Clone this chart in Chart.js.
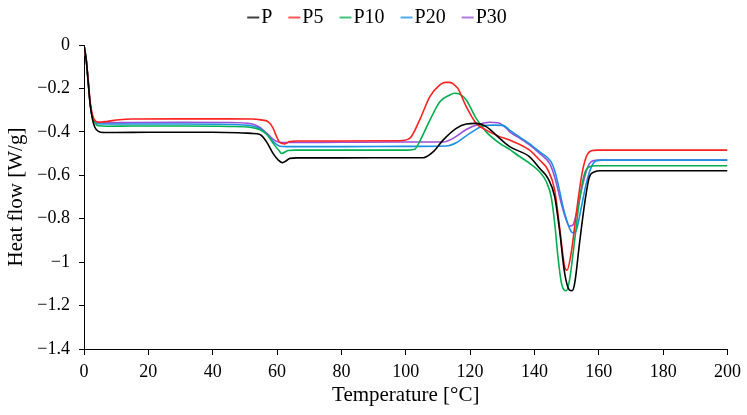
<!DOCTYPE html>
<html>
<head>
<meta charset="utf-8">
<script src="https://cdn.jsdelivr.net/npm/chart.js@4.4.1/dist/chart.umd.min.js"></script>
<style>
  html, body { margin: 0; padding: 0; background: #fff; }
  #c { display: block; }
</style>
</head>
<body>
<canvas id="c" width="747" height="415"></canvas>
<script>
// ---------- data ----------
const seriesNames = ['P', 'P5', 'P10', 'P20', 'P30'];

const xTicks = [0, 20, 40, 60, 80, 100, 120, 140, 160, 180, 200];
const yTicks = [0, -0.2, -0.4, -0.6, -0.8, -1, -1.2, -1.4];

const tempP = [0, 0.7, 1.3, 1.9, 2.6, 3.4, 4.5, 6, 10, 20, 30, 40, 48, 52, 54.7, 56.7, 58.8, 60.4, 61.7, 62.9, 64, 66, 80, 100, 105.4, 108.5, 111.6, 115.7, 118.8, 121.9, 125, 129.2, 132.3, 138.5, 141.6, 144.2, 146.3, 147.8, 149.4, 150.9, 151.7, 152.5, 154, 155.6, 157.1, 158.7, 160.5, 170, 185, 200];
const flowP = [0, -0.07, -0.17, -0.27, -0.34, -0.38, -0.398, -0.403, -0.403, -0.402, -0.402, -0.402, -0.404, -0.407, -0.412, -0.445, -0.5, -0.53, -0.542, -0.533, -0.522, -0.52, -0.52, -0.519, -0.519, -0.492, -0.438, -0.384, -0.364, -0.361, -0.376, -0.43, -0.468, -0.515, -0.568, -0.614, -0.699, -0.853, -1.052, -1.129, -1.132, -1.098, -0.914, -0.73, -0.607, -0.584, -0.579, -0.579, -0.579, -0.579];

const tempP5 = [0, 0.7, 1.3, 1.9, 2.6, 3.4, 4.5, 7, 11, 15, 30, 45, 52, 55, 57.2, 58.8, 59.8, 60.9, 62.4, 63.9, 66, 80, 98, 101.2, 104.3, 107.5, 110.6, 112.3, 113.7, 115, 116.2, 118.8, 121.9, 125, 129.2, 132.3, 138.5, 141.6, 144.2, 146.3, 147.8, 149.4, 150.1, 151.4, 153, 154.6, 156.1, 157.7, 159.5, 170, 185, 200];
const flowP5 = [-0.01, -0.07, -0.16, -0.26, -0.32, -0.348, -0.355, -0.352, -0.344, -0.341, -0.34, -0.34, -0.341, -0.345, -0.353, -0.384, -0.42, -0.45, -0.456, -0.444, -0.442, -0.442, -0.441, -0.43, -0.346, -0.238, -0.184, -0.172, -0.172, -0.182, -0.2, -0.284, -0.361, -0.392, -0.422, -0.438, -0.484, -0.53, -0.576, -0.668, -0.837, -1.022, -1.037, -0.96, -0.776, -0.607, -0.515, -0.487, -0.484, -0.484, -0.484, -0.484];

const tempP10 = [0, 0.7, 1.3, 1.9, 2.6, 3.4, 4.5, 7, 15, 30, 45, 52, 54.7, 56.7, 58.8, 60.9, 61.4, 63.4, 66, 80, 100, 102.8, 104.3, 107.5, 110.6, 113.7, 115.2, 116.2, 118.8, 121.9, 125, 129.2, 132.3, 135, 138.5, 141.6, 143.7, 145.2, 146.3, 147.3, 148.4, 149.9, 150.9, 152.5, 154, 155.6, 157.1, 159.2, 170, 185, 200];
const flowP10 = [0, -0.07, -0.17, -0.27, -0.33, -0.36, -0.372, -0.374, -0.373, -0.373, -0.375, -0.38, -0.39, -0.41, -0.453, -0.492, -0.5, -0.486, -0.484, -0.484, -0.484, -0.48, -0.445, -0.346, -0.261, -0.23, -0.222, -0.223, -0.253, -0.338, -0.4, -0.453, -0.481, -0.51, -0.545, -0.584, -0.63, -0.699, -0.822, -0.975, -1.098, -1.132, -1.083, -0.899, -0.714, -0.591, -0.561, -0.556, -0.556, -0.556, -0.556];

const tempP20 = [0, 0.7, 1.3, 1.9, 2.6, 3.4, 4.5, 7, 15, 30, 45, 52, 54.7, 56.7, 58.8, 60.9, 63, 80, 100, 112.6, 115.7, 119.9, 124, 127.1, 130.2, 132.3, 135, 138.5, 141.6, 145.2, 146.3, 147.3, 149.4, 152, 153, 154.6, 156.1, 157.7, 159.2, 161, 170, 185, 200];
const flowP20 = [0, -0.07, -0.17, -0.27, -0.33, -0.355, -0.363, -0.364, -0.364, -0.364, -0.366, -0.372, -0.385, -0.41, -0.445, -0.466, -0.468, -0.468, -0.467, -0.465, -0.45, -0.407, -0.373, -0.369, -0.37, -0.392, -0.42, -0.455, -0.492, -0.538, -0.579, -0.637, -0.776, -0.865, -0.853, -0.745, -0.637, -0.561, -0.533, -0.53, -0.53, -0.53, -0.53];

const tempP30 = [0, 0.7, 1.3, 1.9, 2.6, 3.4, 4.5, 7, 15, 30, 45, 52, 54.7, 56.7, 58.8, 60.4, 62, 80, 100, 111.6, 114.7, 118.8, 123, 126.1, 128.7, 131.3, 132.3, 135, 138.5, 141.6, 144.7, 145.8, 146.8, 148.9, 150.9, 151.9, 153.5, 155.1, 156.6, 158.2, 160, 170, 185, 200];
const flowP30 = [0, -0.07, -0.17, -0.27, -0.33, -0.352, -0.358, -0.358, -0.357, -0.356, -0.357, -0.363, -0.38, -0.405, -0.435, -0.447, -0.449, -0.448, -0.447, -0.447, -0.43, -0.389, -0.364, -0.356, -0.358, -0.384, -0.4, -0.425, -0.46, -0.499, -0.545, -0.585, -0.637, -0.76, -0.834, -0.83, -0.745, -0.637, -0.561, -0.533, -0.53, -0.53, -0.53, -0.53];

// ---------- styling ----------
const colors = ['#000000', '#FF2020', '#00B050', '#1A8FE3', '#9A4FD6'];
const serif = '"Liberation Serif", "Times New Roman", Times, serif';

function toPoints(xs, ys) { return xs.map((x, i) => ({ x: x, y: ys[i] })); }

function legendLine(color) {
  const cv = document.createElement('canvas');
  cv.width = 26; cv.height = 4;
  const g = cv.getContext('2d');
  g.strokeStyle = color; g.lineWidth = 1.5;
  g.beginPath(); g.moveTo(11, 2); g.lineTo(23, 2); g.stroke();
  return cv;
}

const temps = [tempP, tempP5, tempP10, tempP20, tempP30];
const flows = [flowP, flowP5, flowP10, flowP20, flowP30];

const datasets = seriesNames.map((name, i) => ({
  label: name,
  data: toPoints(temps[i], flows[i]),
  borderColor: colors[i],
  backgroundColor: colors[i],
  borderWidth: 1.6,
  pointRadius: 0,
  pointHoverRadius: 0,
  pointStyle: legendLine(colors[i]),
  cubicInterpolationMode: 'monotone',
  fill: false
}));

const legendTweak = {
  id: 'legendTweak',
  beforeInit(chart) {
    const lg = chart.legend;
    if (lg) {
      const orig = lg.fit;
      lg.fit = function () { orig.call(this); if (this.options.display) this.height = 45; };
    }
  },
  afterLayout(chart) {
    const lg = chart.legend;
    if (lg) { lg.top -= 8.5; lg.bottom -= 8.5; lg.left += 13; lg.right += 13; }
  }
};

new Chart(document.getElementById('c'), {
  type: 'line',
  data: { datasets: datasets },
  plugins: [legendTweak],
  options: {
    responsive: false,
    animation: false,
    devicePixelRatio: 1,
    layout: { padding: { left: 0, right: 19, top: 0, bottom: 0 } },
    plugins: {
      tooltip: { enabled: false },
      legend: {
        position: 'top',
        align: 'center',
        labels: {
          usePointStyle: true,
          pointStyleWidth: 4,
          padding: 16,
          color: '#000',
          font: { family: serif, size: 20 }
        }
      }
    },
    scales: {
      x: {
        type: 'linear',
        min: 0, max: 200,
        afterBuildTicks(scale) { scale.ticks = xTicks.map(v => ({ value: v })); },
        afterFit(scale) { scale.height = 66; },
        ticks: { color: '#000', font: { family: serif, size: 18 }, padding: 6, maxRotation: 0 },
        grid: { drawOnChartArea: false, drawTicks: true, tickLength: 6, color: '#000', lineWidth: 1 },
        border: { display: true, color: '#000', width: 1 },
        title: { display: true, text: 'Temperature [°C]', color: '#000', font: { family: serif, size: 21 }, padding: { top: 0, bottom: 7 } }
      },
      y: {
        type: 'linear',
        min: -1.4, max: 0,
        afterBuildTicks(scale) { scale.ticks = yTicks.map(v => ({ value: v })); },
        afterFit(scale) { scale.width = 84; },
        ticks: {
          color: '#000', font: { family: serif, size: 18 }, padding: 9,
          callback(v) { const r = Math.round(v * 10) / 10; return r === 0 ? '0' : String(r).replace('-', '\u2212'); }
        },
        grid: { drawOnChartArea: false, drawTicks: true, tickLength: 5, color: '#000', lineWidth: 1 },
        border: { display: true, color: '#000', width: 1 },
        title: { display: true, text: 'Heat flow [W/g]', color: '#000', font: { family: serif, size: 21 }, padding: { top: 4, bottom: 0 } }
      }
    }
  }
});
</script>
</body>
</html>
